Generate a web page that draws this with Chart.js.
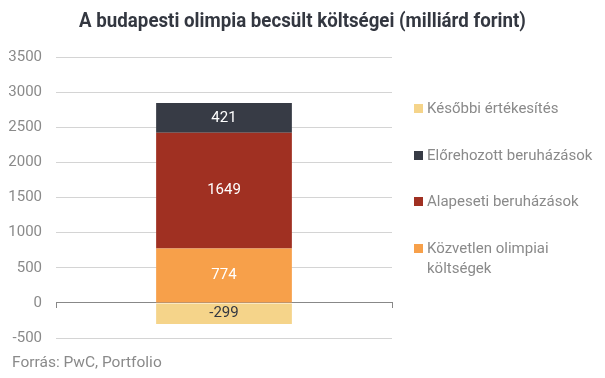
<!DOCTYPE html>
<html>
<head>
<meta charset="utf-8">
<script src="https://cdn.jsdelivr.net/npm/chart.js@4"></script>
<style>
  body { margin: 0; background: #fff; font-family: Roboto, sans-serif; }
  #wrap { position: relative; width: 605px; height: 378px; }
  #title { position: absolute; left: 0; top: 8px; width: 605px; text-align: center; font-weight: bold; font-size: 20px; color: #333740; white-space: nowrap; transform: scaleX(0.935); transform-origin: center top; }
  #legend { position: absolute; left: 414px; top: 98px; width: 190px; }
  .item { position: relative; padding-left: 13px; font-size: 15px; line-height: 20px; color: #8a8a8a; margin-bottom: 26.5px; }
  .item.wrap { width: 150px; }
  .sw { position: absolute; left: 0; top: 6px; width: 9px; height: 9px; }
  #source { position: absolute; left: 12px; top: 353px; font-size: 15.5px; color: #8a8a8a; }
</style>
</head>
<body>
<div id="wrap">
  <canvas id="chart" width="605" height="378"></canvas>
  <div id="title">A budapesti olimpia becsült költségei (milliárd forint)</div>
  <div id="legend"></div>
  <div id="source">Forrás: PwC, Portfolio</div>
</div>
<script>
// stacking order: bottom to top, then the negative part
const seriesNames = ['Közvetlen olimpiai költségek', 'Alapeseti beruházások', 'Előrehozott beruházások', 'Későbbi értékesítés'];
const seriesValues = [774, 1649, 421, -299];
const seriesColors = ['#f7a04a', '#a03022', '#373b45', '#f5d48a'];
const labelColors = ['#fff', '#fff', '#fff', '#333740'];
const yTicks = [-500, 0, 500, 1000, 1500, 2000, 2500, 3000, 3500];

// legend, top to bottom
const legendDiv = document.getElementById('legend');
seriesNames.slice().reverse().forEach((name, i) => {
  const idx = seriesNames.length - 1 - i;
  const item = document.createElement('div');
  item.className = idx === 0 ? 'item wrap' : 'item';
  item.innerHTML = `<span class="sw" style="background:${seriesColors[idx]}"></span>${name}`;
  legendDiv.appendChild(item);
});

const barLabels = {
  id: 'barLabels',
  afterDatasetsDraw(chart) {
    const ctx = chart.ctx;
    ctx.save();
    ctx.font = '15px Roboto';
    ctx.textAlign = 'center';
    ctx.textBaseline = 'middle';
    chart.data.datasets.forEach((ds, i) => {
      chart.getDatasetMeta(i).data.forEach(bar => {
        ctx.fillStyle = labelColors[i];
        ctx.fillText(ds.data[0], bar.x, (bar.y + bar.base) / 2);
      });
    });
    ctx.restore();
  }
};

new Chart(document.getElementById('chart'), {
  type: 'bar',
  data: {
    labels: [''],
    datasets: seriesNames.map((name, i) => ({
      label: name,
      data: [seriesValues[i]],
      backgroundColor: seriesColors[i],
      borderWidth: 0,
      barPercentage: 0.404,
      categoryPercentage: 1
    }))
  },
  options: {
    responsive: false,
    animation: false,
    layout: { padding: { left: 0, right: 213, top: 57, bottom: 40 } },
    plugins: { legend: { display: false }, tooltip: { enabled: false } },
    scales: {
      x: {
        stacked: true,
        position: { y: 0 },
        ticks: { display: false },
        grid: { drawOnChartArea: false, offset: true, tickLength: 5, color: '#888' },
        border: { color: '#888' }
      },
      y: {
        stacked: true,
        min: -500,
        max: 3500,
        afterBuildTicks: axis => { axis.ticks = yTicks.map(v => ({ value: v })); },
        afterFit: axis => { axis.width = 56; },
        ticks: { padding: 14, color: '#8a8a8a', font: { family: 'Roboto', size: 15 }, callback: v => String(v) },
        grid: { drawTicks: false, color: '#d4d4d4' },
        border: { display: false }
      }
    }
  },
  plugins: [barLabels]
});
</script>
</body>
</html>
